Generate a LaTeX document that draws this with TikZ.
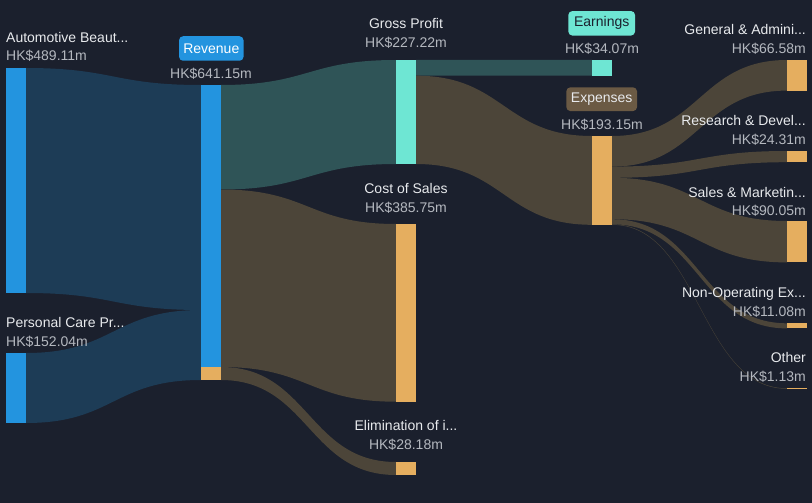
\documentclass[tikz,border=0pt]{standalone}
\usepackage{fontspec}
\setmainfont{Liberation Sans}
\definecolor{bg}{HTML}{1B202D}
\definecolor{nblue}{HTML}{2394DF}
\definecolor{fblue}{HTML}{1D3C56}
\definecolor{nteal}{HTML}{6EE6D3}
\definecolor{fteal}{HTML}{2F5457}
\definecolor{norange}{HTML}{E5AE5F}
\definecolor{fbrown}{HTML}{4C4539}
\definecolor{expbox}{HTML}{6B5A44}
\definecolor{lbl}{HTML}{E8EAED}
\definecolor{val}{HTML}{B4B8BF}
\newcommand{\sflow}[7]{%
  \pgfmathsetmacro{\xmid}{(#1+#4)/2}%
  \fill[#7] (#1,#2) .. controls (\xmid,#2) and (\xmid,#5) .. (#4,#5) -- (#4,#6) .. controls (\xmid,#6) and (\xmid,#3) .. (#1,#3) -- cycle;}
\begin{document}
\begin{tikzpicture}[x=1pt,y=-1pt,
  bar/.style={inner sep=0pt,outer sep=0pt,minimum width=20pt,draw=none},
  lname/.style={text=lbl,font=\fontsize{14}{16}\selectfont,inner sep=0pt},
  lvalue/.style={text=val,font=\fontsize{14}{16}\selectfont,inner sep=0pt},
  tag/.style={rounded corners=4pt,font=\fontsize{14}{16}\selectfont,inner sep=0pt,minimum height=24.5pt,anchor=center}]
\useasboundingbox (0,0) rectangle (812,503);
\fill[bg] (0,0) rectangle (812,503);
% flows
\sflow{26}{68}{293}{201}{85}{310}{fblue}
\sflow{26}{353}{423}{201}{310}{380}{fblue}
\sflow{221}{85}{189.5}{396}{60}{164}{fteal}
\sflow{221}{189.5}{367}{396}{224}{401.7}{fbrown}
\sflow{221}{367}{380}{396}{462}{475}{fbrown}
\sflow{416}{60}{75.7}{592}{60}{75.7}{fteal}
\sflow{416}{75.7}{164}{592}{136}{224.8}{fbrown}
\sflow{612}{136}{166.6}{787}{60}{90.6}{fbrown}
\sflow{612}{166.6}{177.8}{787}{151}{162.2}{fbrown}
\sflow{612}{177.8}{219.2}{787}{221}{262.4}{fbrown}
\sflow{612}{219.2}{224.3}{787}{323.3}{328.4}{fbrown}
\sflow{612}{224.3}{224.8}{787}{388.3}{388.8}{fbrown}
% nodes
\node[bar,fill=nblue,minimum height=225pt] (auto) at (16,180.5) {};
\node[bar,fill=nblue,minimum height=70pt] (pers) at (16,388) {};
\node[bar,fill=nblue,minimum height=295pt] (rev) at (211,232.5) {};
\node[bar,fill=norange,minimum height=13pt] (revelim) at (211,373.5) {};
\node[bar,fill=nteal,minimum height=104pt] (gp) at (406,112) {};
\node[bar,fill=norange,minimum height=177.7pt] (cos) at (406,312.85) {};
\node[bar,fill=norange,minimum height=13pt] (elim) at (406,468.5) {};
\node[bar,fill=nteal,minimum height=15.7pt] (earn) at (602,67.85) {};
\node[bar,fill=norange,minimum height=88.8pt] (exp) at (602,180.4) {};
\node[bar,fill=norange,minimum height=30.6pt] (ga) at (797,75.3) {};
\node[bar,fill=norange,minimum height=11.2pt] (rd) at (797,156.6) {};
\node[bar,fill=norange,minimum height=41.4pt] (sm) at (797,241.7) {};
\node[bar,fill=norange,minimum height=5.1pt] (nonop) at (797,325.85) {};
\node[bar,fill=norange,minimum height=0.6pt] (oth) at (797,388.55) {};
% labels
\node[lname,anchor=base west] (lauto) at (6,42.5) {Automotive Beaut...};
\node[lvalue,anchor=base west] (vauto) at (6,61) {HK\$489.11m};
\node[lname,anchor=base west] (lpers) at (6,327.5) {Personal Care Pr...};
\node[lvalue,anchor=base west] (vpers) at (6,346) {HK\$152.04m};
\node[tag,fill=nblue,text=white,minimum width=64.5pt] (lrev) at (211.3,48.5) {Revenue};
\node[lvalue,anchor=base] (vrev) at (211,78) {HK\$641.15m};
\node[lname,anchor=base] (lgp) at (406,28.8) {Gross Profit};
\node[lvalue,anchor=base] (vgp) at (406,47.5) {HK\$227.22m};
\node[lname,anchor=base] (lcos) at (406,193.8) {Cost of Sales};
\node[lvalue,anchor=base] (vcos) at (406,212.5) {HK\$385.75m};
\node[lname,anchor=base] (lelim) at (406,430.5) {Elimination of i...};
\node[lvalue,anchor=base] (velim) at (406,449.5) {HK\$28.18m};
\node[tag,fill=nteal,text=bg,minimum width=66.7pt] (learn) at (601.7,23.3) {Earnings};
\node[lvalue,anchor=base] (vearn) at (602,53.5) {HK\$34.07m};
\node[tag,fill=expbox,text=lbl,minimum width=70.7pt,minimum height=23.7pt] (lexp) at (601.7,99.2) {Expenses};
\node[lvalue,anchor=base] (vexp) at (602,129.5) {HK\$193.15m};
\node[lname,anchor=base east] (lga) at (806,34.8) {General \& Admini...};
\node[lvalue,anchor=base east] (vga) at (806,53.5) {HK\$66.58m};
\node[lname,anchor=base east] (lrd) at (806,125.5) {Research \& Devel...};
\node[lvalue,anchor=base east] (vrd) at (806,144) {HK\$24.31m};
\node[lname,anchor=base east] (lsm) at (806,197.2) {Sales \& Marketin...};
\node[lvalue,anchor=base east] (vsm) at (806,215.5) {HK\$90.05m};
\node[lname,anchor=base east] (lno) at (806,297.2) {Non-Operating Ex...};
\node[lvalue,anchor=base east] (vno) at (806,316) {HK\$11.08m};
\node[lname,anchor=base east] (loth) at (806,362.2) {Other};
\node[lvalue,anchor=base east] (voth) at (806,381) {HK\$1.13m};
\end{tikzpicture}
\end{document}
